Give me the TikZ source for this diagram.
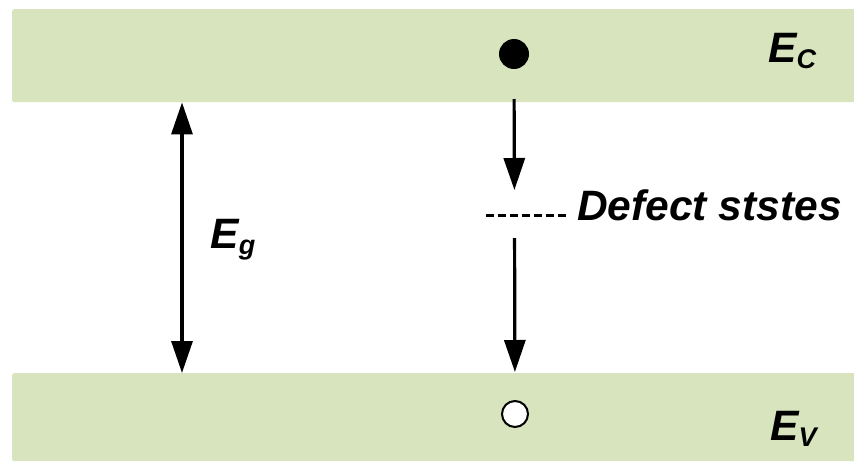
\documentclass[tikz,border=0pt]{standalone}
\usepackage{fontspec}
\setmainfont{Liberation Sans}
\usetikzlibrary{positioning, arrows.meta, calc}
\definecolor{bandgreen}{RGB}{215,228,189}
\newcommand{\bandsub}[1]{\raisebox{-6pt}{\fontsize{27}{27}\selectfont#1}}
\tikzset{
  band/.style={fill=bandgreen, draw=none, rounded corners=2pt,
    anchor=north west, minimum width=850pt, inner sep=0pt},
  carrier/.style={circle, draw=black, line width=2pt, inner sep=0pt},
  level/.style={inner sep=0pt, font=\fontsize{42.5}{42.5}\selectfont\bfseries\itshape},
  trans/.style={-{Triangle[width=21pt,length=32pt]}, line width=3.2pt},
}
\begin{document}
\begin{tikzpicture}[x=1pt, y=-1pt]
  \useasboundingbox (0,0) rectangle (854,461);
  % bands
  \node[band, minimum height=93pt] (cband) at (12,9) {};
  \node[band, minimum height=88pt] (vband) at (12,373) {};
  \node[level, anchor=base west] (ec) at (768,62) {E\bandsub{C}};
  \node[level, anchor=base west] (ev) at (770,440) {E\bandsub{V}};

  % band gap
  \coordinate (gapx) at (182,0);
  \draw[trans, {Triangle[width=21pt,length=32pt]}-{Triangle[width=21pt,length=32pt]}]
    (cband.south -| gapx) -- (vband.north -| gapx);
  \node[level] (eg) at (233,240) {E\bandsub{g}};

  % carriers and defect level
  \node[carrier, fill=black, minimum size=28pt] (elec) at (514,54) {};
  \node[carrier, fill=white, minimum size=26pt] (hole) at (515,414) {};
  \coordinate (trap) at (514.5,215);
  \draw[line width=3pt, dash pattern=on 7.5pt off 4.5pt] (486,215) -- (567,215);
  \node[level, anchor=base west] (defect) at (577,220) {Defect ststes};

  \draw[trans, shorten <=30pt, shorten >=25pt] (elec.south) -- (trap);
  \draw[trans, shorten <=23pt, shorten >=28pt] (trap) -- (hole.north);
\end{tikzpicture}
\end{document}
